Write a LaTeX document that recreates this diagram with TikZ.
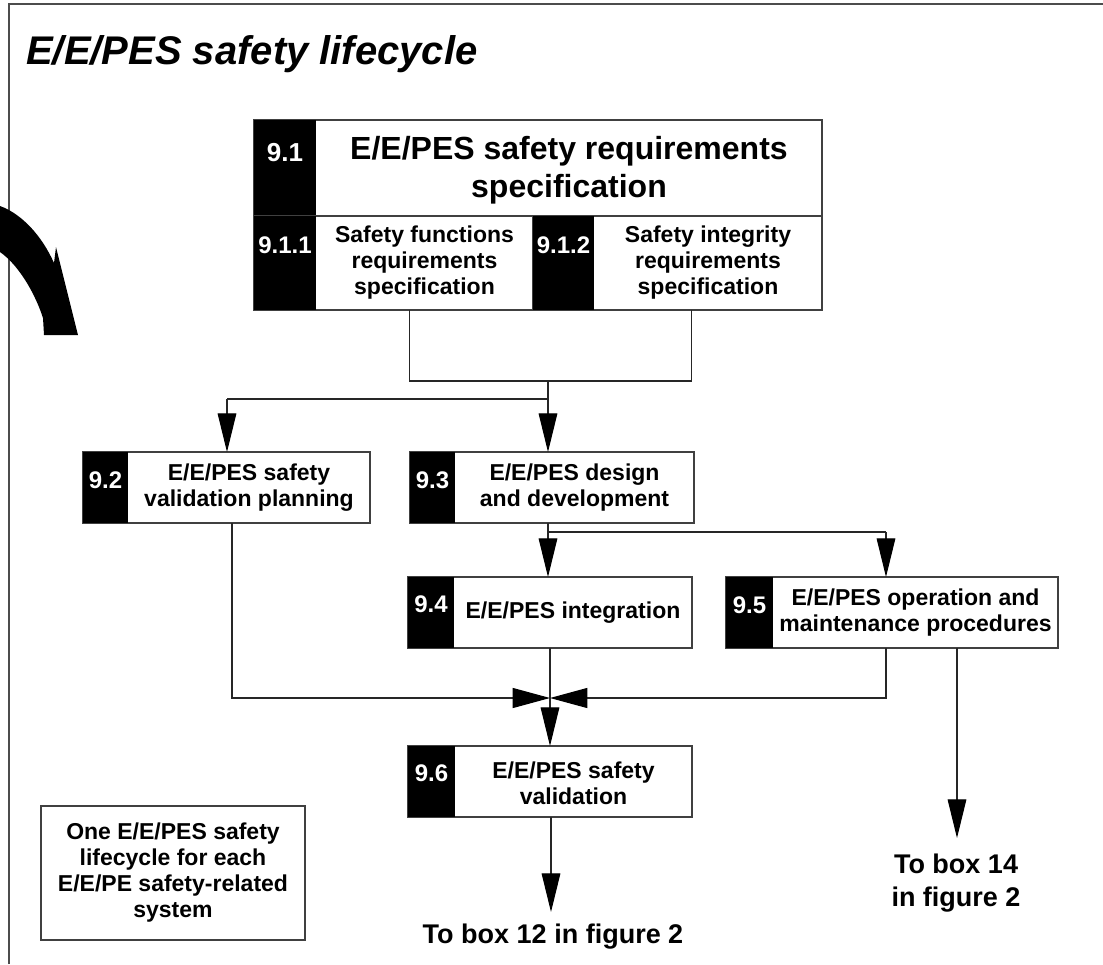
\documentclass[tikz,border=0pt]{standalone}
\usepackage{fontspec}
\setmainfont{Liberation Sans}
\usetikzlibrary{arrows.meta}
\tikzset{
  frameline/.style={draw=black!70, line width=1.5pt},
  wbox/.style={draw=black!75, line width=0.9pt, fill=white, anchor=north west, inner sep=0pt, outer sep=0pt},
  nbox/.style={fill=black, anchor=north west, inner sep=0pt, outer sep=0pt},
  num/.style={text=white, inner sep=0pt, font=\bfseries\fontsize{18}{20}\selectfont},
  bignum/.style={text=white, inner sep=0pt, font=\bfseries\fontsize{19.5}{22}\selectfont},
  txt/.style={align=center, inner sep=0pt, font=\bfseries\fontsize{17.25}{19.5}\selectfont},
  bigtxt/.style={align=center, inner sep=0pt, font=\bfseries\fontsize{24}{28.5}\selectfont},
  lbl/.style={align=center, inner sep=0pt, font=\bfseries\fontsize{20.25}{24.75}\selectfont},
  conn/.style={draw=black!85, line width=0.8pt},
  arr/.style={conn, -{Triangle[length=29pt, width=14pt, color=black]}},
  arrh/.style={conn, -{Triangle[length=28pt, width=15pt, color=black]}}
}
% name, x1, y1, x2, y2, panel right edge (pixel units)
\newcommand{\lcbox}[6]{%
  \node[wbox, minimum width={(#4-#2)*0.75pt}, minimum height={(#5-#3)*0.75pt}] (#1) at (#2,#3) {};
  \node[nbox, minimum width={(#6-#2)*0.75pt}, minimum height={(#5-#3)*0.75pt}] (#1n) at (#2,#3) {};
}
\begin{document}
\begin{tikzpicture}[x=0.75pt, y=-0.75pt]
\useasboundingbox (0,0) rectangle (1103,964);
\fill[white] (0,0) rectangle (1103,964);

% frame (top and left edges)
\draw[frameline] (9,964) -- (9,4) -- (1103,4);

% title
\node[anchor=base west, inner sep=0pt, font=\bfseries\itshape\fontsize{30}{36}\selectfont] (title) at (26,64) {E/E/PES safety lifecycle};

% big curved arrow at the left
\fill[black] (0,206) .. controls (22,214) and (42,236) .. (54,263)
  -- (56,247) -- (78,335) -- (44,335) -- (43,318)
  .. controls (36,296) and (20,266) .. (0,252) -- cycle;

% box 9.1
\lcbox{b91}{254}{120}{822}{216}{316}
\lcbox{b911}{254}{216}{533}{310}{316}
\lcbox{b912}{533}{216}{822}{310}{594}
\node[bignum] (n91) at (285,153) {9.1};
\node[bigtxt] (t91) at (569,170) {E/E/PES safety requirements\\specification};
\node[num] (n911) at (285,245) {9.1.1};
\node[txt] (t911) at (424.5,263) {Safety functions\\requirements\\specification};
\node[num] (n912) at (563.5,245) {9.1.2};
\node[txt] (t912) at (708,263) {Safety integrity\\requirements\\specification};

% 9.2
\lcbox{b92}{83}{452}{370}{523}{128}
\node[num] (n92) at (105.5,480) {9.2};
\node[txt] (t92) at (249,488) {E/E/PES safety\\validation planning};

% 9.3
\lcbox{b93}{410}{452}{694}{523}{455}
\node[num] (n93) at (432.5,480) {9.3};
\node[txt] (t93) at (574.5,488) {E/E/PES design\\and development};

% 9.4
\lcbox{b94}{408}{577}{692}{648}{454}
\node[num] (n94) at (431,604) {9.4};
\node[txt] (t94) at (573,613) {E/E/PES integration};

% 9.5
\lcbox{b95}{726}{577}{1058}{648}{773}
\node[num] (n95) at (749.5,605) {9.5};
\node[txt] (t95) at (915.5,613) {E/E/PES operation and\\maintenance procedures};

% 9.6
\lcbox{b96}{408}{746}{692}{817}{455}
\node[num] (n96) at (431.5,773) {9.6};
\node[txt] (t96) at (573.5,783) {E/E/PES safety\\validation};

% note box
\node[wbox, minimum width={264*0.75pt}, minimum height={134*0.75pt}] (note) at (41,806) {};
\node[txt] (tnote) at (173,873) {One E/E/PES safety\\lifecycle for each\\E/E/PE safety-related\\system};

% connectors below 9.1
\coordinate (xL) at (409.5,381);
\coordinate (xR) at (691.5,381);
\coordinate (jA) at (548,381);
\coordinate (jB) at (548,399);
\coordinate (x92) at (227,399);
\draw[conn] (xL |- b911.south) -- (xL) -- (xR) -- (xR |- b912.south);
\draw[conn] (jA) -- (jB) -- (x92);
\draw[arr] (x92) -- (x92 |- b92.north);
\draw[arr] (jB) -- (jB |- b93.north);

% connectors below 9.3
\coordinate (c93) at (548,532);
\coordinate (x95) at (886,532);
\draw[arr] (c93 |- b93.south) -- (c93 |- b94.north);
\draw[conn] (c93) -- (x95);
\draw[arr] (x95) -- (x95 |- b95.north);

% merge into 9.6
\coordinate (jC) at (550,698);
\coordinate (l92) at (232,698);
\coordinate (r95) at (886,698);
\draw[arrh] (l92 |- b92.south) -- (l92) -- (jC);
\draw[arrh] (r95 |- b95.south) -- (r95) -- (jC);
\draw[arr] (jC |- b94.south) -- (jC |- b96.north);

% outgoing arrows
\coordinate (x96) at (551,912);
\coordinate (x14) at (957,838);
\draw[arr] (x96 |- b96.south) -- (x96);
\draw[arr] (x14 |- b95.south) -- (x14);
\node[lbl] (to12) at (553,937) {To box 12 in figure 2};
\node[lbl] (to14) at (956,883) {To box 14\\in figure 2};
\end{tikzpicture}
\end{document}
